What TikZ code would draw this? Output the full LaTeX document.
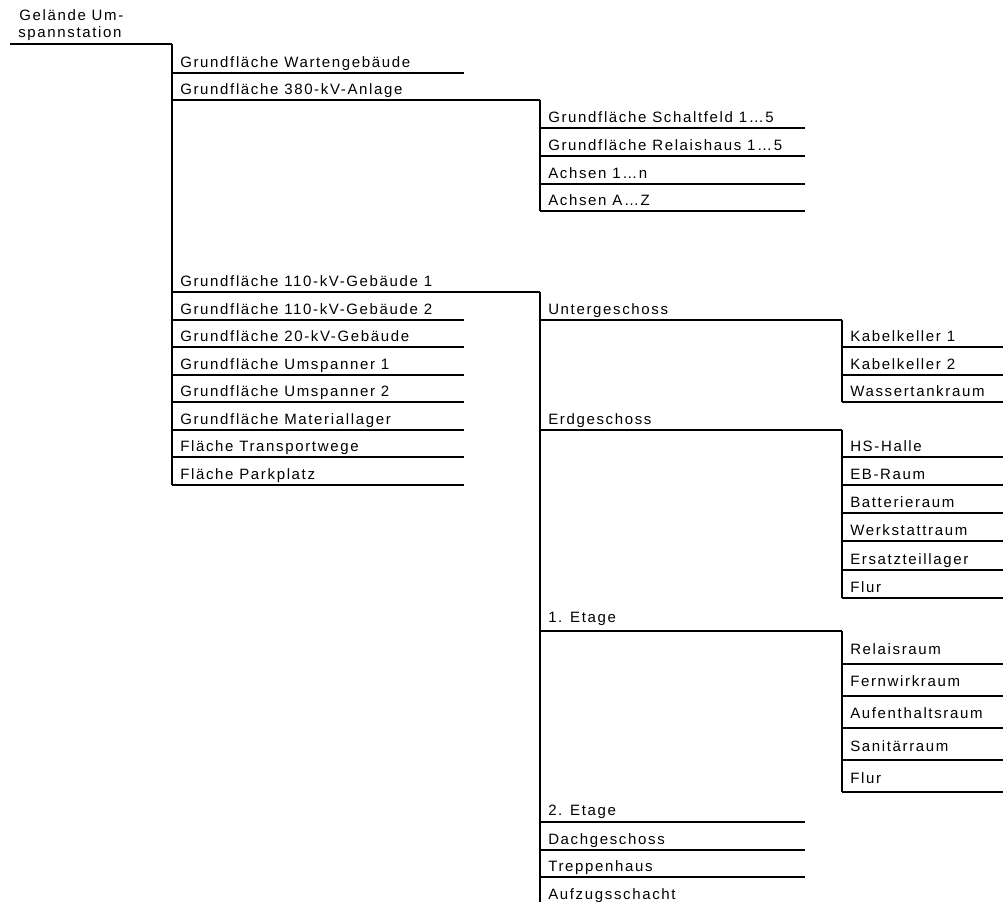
\documentclass[tikz,border=0pt]{standalone}
\usepackage{fontspec}
\setmainfont{Liberation Sans}[LetterSpace=11]
\begin{document}
\begin{tikzpicture}[x=0.75pt,y=-0.75pt,
  hline/.style={line width=1.5pt},
  vline/.style={line width=1.1pt},
  lbl/.style={inner sep=0pt,anchor=base west,font=\fontsize{11.25pt}{13.5pt}\selectfont}]
\useasboundingbox (0,0) rectangle (1003,901);

% one row of the tree: underline from (x,y) to (xend,y), label sitting on it
% #1 name, #2 x, #3 y, #4 xend, #5 baseline offset, #6 text
\newcommand\treerow[6]{%
  \coordinate (#1-l) at (#2,#3);
  \coordinate (#1-r) at (#4,#3);
  \draw[hline] (#1-l) -- (#1-r);
  \node[lbl] (#1) at (#2+8,#3-#5) {#6};
}

% root
\node[lbl] (root1) at (19,20.7) {Gelände Um-};
\node[lbl] (root2) at (18,37.3) {spannstation};
\coordinate (root-l) at (10,44);
\coordinate (root-r) at (172,44);
\draw[hline] (root-l) -- (root-r);

% level 1
\treerow{w}{172}{72.5}{464}{5.5}{Grundfläche Wartengebäude}
\treerow{a380}{172}{99.5}{540}{5.5}{Grundfläche 380-kV-Anlage}
\treerow{g110a}{172}{292}{540}{5.5}{Grundfläche 110-kV-Gebäude 1}
\treerow{g110b}{172}{319.5}{464}{5.5}{Grundfläche 110-kV-Gebäude 2}
\treerow{g20}{172}{347}{464}{5.5}{Grundfläche 20-kV-Gebäude}
\treerow{u1}{172}{374.5}{464}{5.5}{Grundfläche Umspanner 1}
\treerow{u2}{172}{402}{464}{5.5}{Grundfläche Umspanner 2}
\treerow{mat}{172}{429.5}{464}{5.5}{Grundfläche Materiallager}
\treerow{tw}{172}{457}{464}{5.5}{Fläche Transportwege}
\treerow{pp}{172}{485}{464}{5.5}{Fläche Parkplatz}
\draw[vline] (root-r) -- (pp-l);

% 380-kV-Anlage
\treerow{sf}{540}{128}{805}{5.5}{Grundfläche Schaltfeld 1…5}
\treerow{rh}{540}{156}{805}{5.5}{Grundfläche Relaishaus 1…5}
\treerow{a1n}{540}{183.5}{805}{5.5}{Achsen 1…n}
\treerow{aAZ}{540}{211}{805}{5.5}{Achsen A…Z}
\draw[vline] (a380-r) -- (aAZ-l);

% 110-kV-Gebaeude 1
\treerow{ug}{540}{319.5}{842}{5.5}{Untergeschoss}
\treerow{eg}{540}{429.5}{842}{5.5}{Erdgeschoss}
\treerow{e1}{540}{631}{842}{9}{1. Etage}
\treerow{e2}{540}{822}{805}{7}{2. Etage}
\treerow{dg}{540}{849.5}{805}{5.5}{Dachgeschoss}
\treerow{th}{540}{877}{805}{5.5}{Treppenhaus}
\treerow{az}{540}{905}{805}{5.5}{Aufzugsschacht}
\draw[vline] (g110a-r) -- (az-l);

% Untergeschoss
\treerow{kk1}{842}{347}{1003}{5.5}{Kabelkeller 1}
\treerow{kk2}{842}{374.5}{1003}{5.5}{Kabelkeller 2}
\treerow{wt}{842}{402}{1003}{5.5}{Wassertankraum}
\draw[vline] (ug-r) -- (wt-l);

% Erdgeschoss
\treerow{hs}{842}{457}{1003}{5.5}{HS-Halle}
\treerow{eb}{842}{485}{1003}{5.5}{EB-Raum}
\treerow{bat}{842}{513}{1003}{5.5}{Batterieraum}
\treerow{ws}{842}{541}{1003}{5.5}{Werkstattraum}
\treerow{et}{842}{569.5}{1003}{5.5}{Ersatzteillager}
\treerow{fla}{842}{598}{1003}{5.5}{Flur}
\draw[vline] (eg-r) -- (fla-l);

% 1. Etage
\treerow{rr}{842}{663.5}{1003}{9}{Relaisraum}
\treerow{fw}{842}{695.5}{1003}{9}{Fernwirkraum}
\treerow{ar}{842}{727.5}{1003}{9}{Aufenthaltsraum}
\treerow{sr}{842}{760}{1003}{9}{Sanitärraum}
\treerow{flb}{842}{792}{1003}{9}{Flur}
\draw[vline] (e1-r) -- (flb-l);
\end{tikzpicture}
\end{document}
